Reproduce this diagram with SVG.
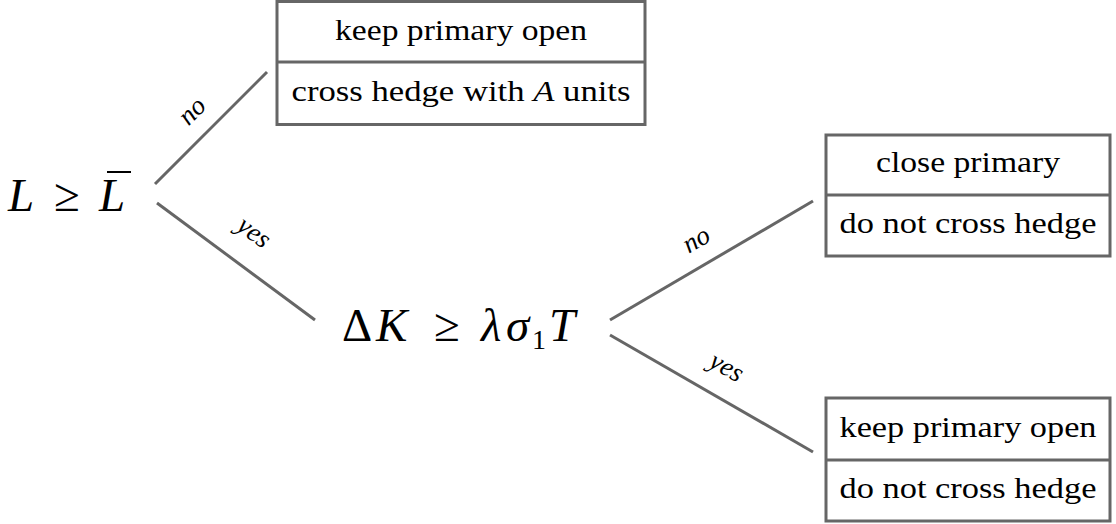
<svg xmlns="http://www.w3.org/2000/svg" width="1116" height="524" viewBox="0 0 1116 524">
<style>
.box{fill:#fff;stroke:#666;stroke-width:3}
.div{stroke:#666;stroke-width:3}
.edge{stroke:#666;stroke-width:3;fill:none}
text{font-family:'Liberation Serif','DejaVu Serif','Times New Roman',serif;fill:#000}
.bt{font-size:29px;text-anchor:middle}
.math{font-size:47px}
.sub{font-size:28px}
.it{font-style:italic}
.lbl{font-size:27px;font-style:italic;text-anchor:middle}
</style>
<rect width="1116" height="524" fill="#fff"/>
<g id="connectors">
<line class="edge" x1="155" y1="184" x2="267" y2="72"/>
<line class="edge" x1="157" y1="203" x2="315" y2="320"/>
<line class="edge" x1="610" y1="320" x2="813" y2="201"/>
<line class="edge" x1="610" y1="335" x2="813" y2="452"/>
<text class="lbl" transform="translate(193,112) rotate(-45)" y="7">no</text>
<text class="lbl" transform="translate(252,235) rotate(36.5)" y="5">yes</text>
<text class="lbl" transform="translate(697,241) rotate(-30)" y="7">no</text>
<text class="lbl" transform="translate(725,370) rotate(29)" y="5">yes</text>
</g>
<g id="n-root">
<text class="math" y="211"><tspan class="it" x="8">L</tspan><tspan x="54">≥</tspan><tspan class="it" x="99">L</tspan></text>
<line x1="107" y1="172" x2="131" y2="172" stroke="#000" stroke-width="2"/>
</g>
<g id="n-dk">
<text class="math" y="341"><tspan x="342">Δ</tspan><tspan class="it" x="376">K</tspan><tspan x="434">≥</tspan><tspan class="it" x="481">λ</tspan><tspan class="it" x="506">σ</tspan><tspan class="sub" x="532" y="349">1</tspan><tspan class="it" x="549" y="341">T</tspan></text>
</g>
<g id="n-leaf1">
<rect class="box" x="277" y="1.5" width="368" height="123"/>
<line class="div" x1="277" y1="62" x2="645" y2="62"/>
<text class="bt" x="461" y="40" textLength="252" lengthAdjust="spacingAndGlyphs">keep primary open</text>
<text class="bt" x="461" y="101" textLength="339" lengthAdjust="spacingAndGlyphs">cross hedge with <tspan class="it">A</tspan> units</text>
</g>
<g id="n-leaf2">
<rect class="box" x="826" y="135" width="284" height="121"/>
<line class="div" x1="826" y1="195" x2="1110" y2="195"/>
<text class="bt" x="968" y="172" textLength="184" lengthAdjust="spacingAndGlyphs">close primary</text>
<text class="bt" x="968" y="233" textLength="257" lengthAdjust="spacingAndGlyphs">do not cross hedge</text>
</g>
<g id="n-leaf3">
<rect class="box" x="826" y="398" width="284" height="123"/>
<line class="div" x1="826" y1="460" x2="1110" y2="460"/>
<text class="bt" x="968" y="437" textLength="257" lengthAdjust="spacingAndGlyphs">keep primary open</text>
<text class="bt" x="968" y="498" textLength="257" lengthAdjust="spacingAndGlyphs">do not cross hedge</text>
</g>
</svg>
